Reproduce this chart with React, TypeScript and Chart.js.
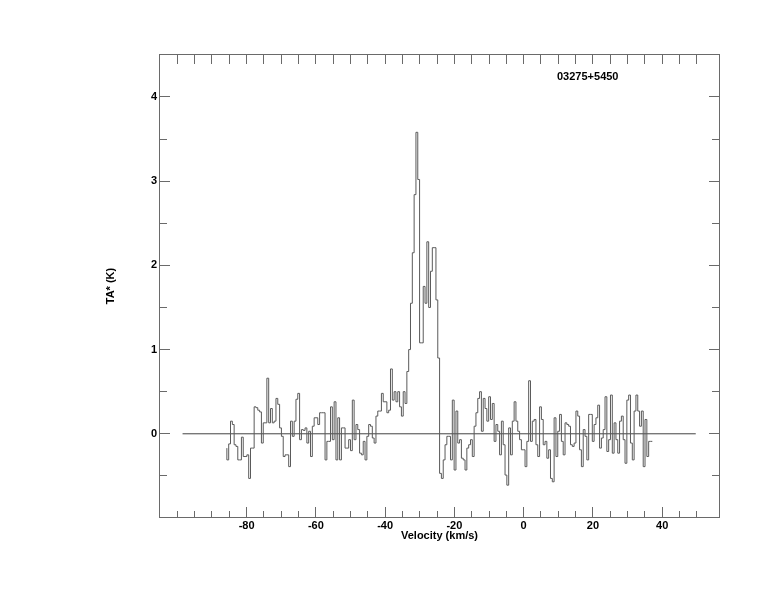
import { useEffect, useRef } from 'react';
import { Chart, registerables } from 'chart.js';

Chart.register(...registerables);

// Spectrum: antenna temperature per channel (K), channels start at V_START, width V_STEP (km/s)
const V_START = -85.7;
const V_STEP = 0.525;

const TA_BLUE_WING = [
  -0.17, -0.31, -0.12, 0.15, 0.11, -0.13, -0.15, -0.31, -0.31, -0.04, -0.27, -0.27, -0.25, -0.53,
  -0.17, -0.17, 0.32, 0.31, 0.28, 0.26, -0.11, 0.13, 0.13, 0.66, 0.13, 0.30, 0.13, 0.15, 0.42,
  0.35, 0.07, -0.03, -0.27, -0.25, -0.25, -0.39, 0.15, -0.03, 0.15, 0.41, 0.48, -0.07, 0.05, 0.04,
  0.07, -0.11, 0.03, -0.27, 0.09, 0.19, 0.19, 0.11, 0.25, 0.25, 0.25, -0.31, -0.09, -0.09, 0.32,
  -0.07, 0.38, -0.31, 0.19, -0.31, 0.07, 0.07, -0.17, -0.17, -0.07, -0.2,
];
const TA_PRE_PEAK = [
  0.40, -0.07, 0.11, 0.05, -0.23, -0.25, -0.09, -0.31, -0.03, 0.11, 0.09, -0.05, -0.11, 0.21, 0.27,
  0.27, 0.48, 0.38, 0.38, 0.25, 0.28, 0.77, 0.40, 0.50, 0.38, 0.50, 0.32, 0.21, 0.50, 0.36, 0.74,
];
const TA_PEAK = [
  1.0, 1.55, 2.15, 2.84, 3.58, 3.02, 1.08, 1.08, 1.75, 1.55, 2.28, 1.50, 1.93, 2.21, 2.21, 1.59, 0.9,
];
const TA_POST_PEAK = [
  -0.47, -0.53, -0.31, -0.13, -0.03, -0.03, -0.31, 0.40, -0.43, 0.27, -0.11, -0.07, -0.29, -0.31,
  -0.43, -0.17, -0.13, -0.07, -0.27, 0.09, 0.25, 0.42, 0.50, 0.03, 0.42, 0.30, 0.15, 0.44, 0.17,
  0.36, -0.09, 0.11, 0.03, -0.25, 0.15, -0.13, -0.49, -0.61, 0.07, -0.25, 0.15, 0.38, 0.15, 0.03,
  -0.07, -0.19, -0.19, -0.39, -0.09, 0.63, -0.09, 0.15, 0.17, -0.13, -0.27, 0.32, 0.17, -0.13,
  -0.09, -0.29, -0.19, -0.53, -0.57, 0.19, -0.27, 0.03, 0.23, -0.09, -0.25,
];
const TA_RED_WING = [
  0.13, 0.11, 0.09, -0.13, -0.15, -0.11, 0.27, 0.21, -0.19, -0.39, 0.05, -0.03, -0.31, 0.23, 0.23,
  -0.09, 0.11, 0.19, 0.34, -0.17, -0.05, 0.05, 0.44, -0.21, -0.07, 0.46, -0.23, 0.13,
  -0.07, -0.23, 0.15, 0.21, -0.07, -0.35, 0.40, 0.46, -0.11, -0.31, 0.27, 0.46, 0.27, 0.09, 0.27,
  -0.39, 0.17, -0.27, -0.09,
];

const BASELINE_V = [-98.5, 49.7];
const BASELINE_T = [0, 0];

const X_MIN = -105.3;
const X_MAX = 56.7;
const Y_MIN = -1.0;
const Y_MAX = 4.51;

const X_LABELS = [-80, -60, -40, -20, 0, 20, 40];
const X_TICKS = [
  -100, -95, -90, -85, -80, -75, -70, -65, -60, -55, -50, -45, -40, -35, -30, -25, -20, -15, -10,
  -5, 0, 5, 10, 15, 20, 25, 30, 35, 40, 45, 50,
];
const Y_LABELS = [0, 1, 2, 3, 4];
const Y_TICKS = [-0.5, 0, 0.5, 1, 1.5, 2, 2.5, 3, 3.5, 4];

const SOURCE_NAME = '03275+5450';
const X_TITLE = 'Velocity (km/s)';
const Y_TITLE = 'TA* (K)';

const LINE_COLOR = '#5a5a5a';
const FRAME_COLOR = '#6a6a6a';
const FONT_FAMILY = '"Liberation Sans", Arial, Helvetica, sans-serif';

export default function App() {
  const ref = useRef<HTMLCanvasElement | null>(null);

  useEffect(() => {
    document.body.style.margin = '0';
    const canvas = ref.current;
    if (!canvas) return;

    const TA = [...TA_BLUE_WING, ...TA_PRE_PEAK, ...TA_PEAK, ...TA_POST_PEAK, ...TA_RED_WING];
    const spectrum = TA.map((t, i) => ({ x: V_START + i * V_STEP, y: t }));
    spectrum.push({ x: V_START + TA.length * V_STEP, y: TA[TA.length - 1] });
    const baseline = BASELINE_V.map((v, i) => ({ x: v, y: BASELINE_T[i] }));

    const framePlugin = {
      id: 'frameTicks',
      afterDraw(chart: any) {
        const { ctx, chartArea } = chart;
        const { left, right, top, bottom } = chartArea;
        const xs = chart.scales.x;
        const ys = chart.scales.y;
        ctx.save();
        ctx.strokeStyle = FRAME_COLOR;
        ctx.lineWidth = 1;
        ctx.strokeRect(left + 0.5, top + 0.5, right - left - 1, bottom - top - 1);
        ctx.beginPath();
        X_TICKS.forEach((v) => {
          const px = Math.floor(xs.getPixelForValue(v)) + 0.5;
          const major = X_LABELS.includes(v);
          ctx.moveTo(px, bottom);
          ctx.lineTo(px, bottom - (major ? 11 : 7));
          ctx.moveTo(px, top);
          ctx.lineTo(px, top + 10);
        });
        Y_TICKS.forEach((v) => {
          const py = Math.floor(ys.getPixelForValue(v)) + 0.5;
          const major = Y_LABELS.includes(v);
          const len = major ? 11 : 8;
          ctx.moveTo(left, py);
          ctx.lineTo(left + len, py);
          ctx.moveTo(right, py);
          ctx.lineTo(right - len, py);
        });
        ctx.stroke();
        ctx.fillStyle = '#000';
        ctx.font = `bold 11px ${FONT_FAMILY}`;
        ctx.textAlign = 'left';
        ctx.textBaseline = 'middle';
        ctx.fillText(SOURCE_NAME, 557, 76.5);
        ctx.restore();
      },
    };

    const font = { family: FONT_FAMILY, size: 11, weight: 'bold' as const };

    const chart = new Chart(canvas, {
      type: 'line',
      data: {
        datasets: [
          {
            data: spectrum,
            stepped: 'after',
            borderColor: LINE_COLOR,
            borderWidth: 1,
            pointRadius: 0,
            fill: false,
          },
          {
            data: baseline,
            borderColor: '#444',
            borderWidth: 1,
            pointRadius: 0,
            fill: false,
          },
        ],
      },
      options: {
        responsive: false,
        animation: false,
        devicePixelRatio: 1,
        layout: { padding: { left: 0, top: 54, right: 54, bottom: 0 } },
        plugins: {
          legend: { display: false },
          tooltip: { enabled: false },
          title: { display: false },
        },
        scales: {
          x: {
            type: 'linear',
            min: X_MIN,
            max: X_MAX,
            grid: { display: false, drawTicks: false },
            border: { display: false },
            ticks: { font, color: '#000', padding: 1.5, maxRotation: 0, autoSkip: false, includeBounds: false },
            afterBuildTicks: (s: any) => {
              s.ticks = X_LABELS.map((v) => ({ value: v }));
            },
            afterFit: (s: any) => {
              s.height = 94;
            },
            title: {
              display: true,
              text: X_TITLE,
              font,
              color: '#000',
              padding: { top: 0, bottom: 69.4 },
            },
          },
          y: {
            type: 'linear',
            min: Y_MIN,
            max: Y_MAX,
            grid: { display: false, drawTicks: false },
            border: { display: false },
            ticks: { font, color: '#000', padding: 2, includeBounds: false },
            afterBuildTicks: (s: any) => {
              s.ticks = Y_LABELS.map((v) => ({ value: v }));
            },
            afterFit: (s: any) => {
              s.width = 159;
            },
            title: {
              display: true,
              text: Y_TITLE,
              font,
              color: '#000',
              padding: { top: 104.4, bottom: 0 },
            },
          },
        },
      },
      plugins: [framePlugin],
    });

    return () => chart.destroy();
  }, []);

  return <canvas ref={ref} width={774} height={612} style={{ display: 'block' }} />;
}
